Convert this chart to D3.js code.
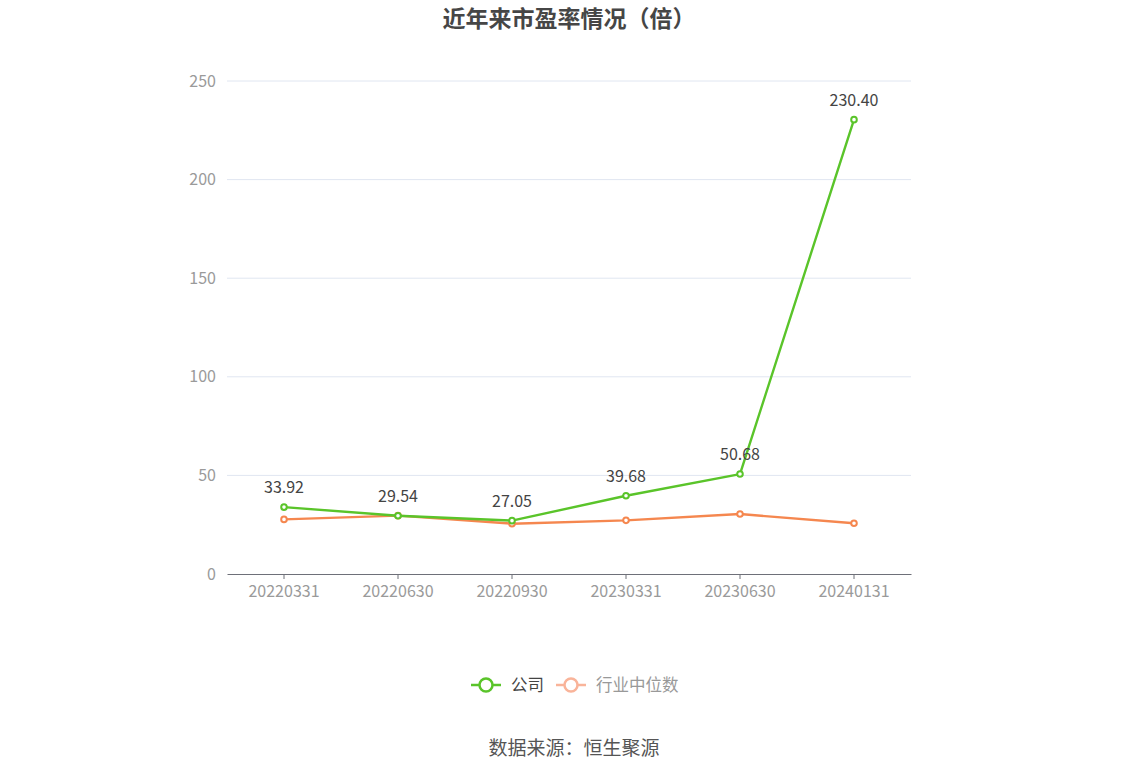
<!DOCTYPE html>
<html>
<head>
<meta charset="utf-8">
<script src="https://cdn.jsdelivr.net/npm/d3@7"></script>
<style>
  body { margin: 0; background: #fff; }
  text { font-family: "Noto Sans CJK SC", "Noto Sans", sans-serif; }
</style>
</head>
<body>
<svg width="1148" height="776"></svg>
<script>
const dates = ["20220331", "20220630", "20220930", "20230331", "20230630", "20240131"];
const companyPE = [33.92, 29.54, 27.05, 39.68, 50.68, 230.40];
const industryPE = [27.7, 29.6, 25.5, 27.2, 30.4, 25.7];
const yTicks = [0, 50, 100, 150, 200, 250];

const svg = d3.select("svg"),
  width = +svg.attr("width"),
  height = +svg.attr("height");

const margin = { left: 227, right: 237, top: 81, bottom: 202 };

const x = d3.scaleBand()
  .domain(dates)
  .range([margin.left, width - margin.right]);

const y = d3.scaleLinear()
  .domain([0, 250])
  .range([height - margin.bottom, margin.top]);

// title
svg.append("text")
  .attr("x", width / 2 - 5)
  .attr("y", 27)
  .attr("text-anchor", "middle")
  .attr("font-size", 23)
  .attr("font-weight", "bold")
  .attr("fill", "#464646")
  .text("近年来市盈率情况（倍）");

// grid lines
svg.append("g")
  .selectAll("line")
  .data(yTicks.filter(d => d > 0))
  .enter().append("line")
  .attr("x1", margin.left)
  .attr("x2", width - margin.right)
  .attr("y1", d => y(d))
  .attr("y2", d => y(d))
  .attr("stroke", "#e0e6f1");

// y axis labels
const yAxis = svg.append("g")
  .attr("transform", `translate(${margin.left},0)`)
  .call(d3.axisLeft(y).tickValues(yTicks).tickSize(0).tickPadding(11));
yAxis.select(".domain").remove();
yAxis.selectAll("text")
  .attr("font-size", 16)
  .attr("fill", "#9a9a9a")
  .attr("font-family", "'Noto Sans', sans-serif");

// x axis
const xAxis = svg.append("g")
  .attr("transform", `translate(0,${y(0)})`)
  .call(d3.axisBottom(x).tickSizeInner(5).tickSizeOuter(0).tickPadding(7));
xAxis.select(".domain").attr("stroke", "#6e7079");
xAxis.selectAll("line").attr("stroke", "#6e7079");
xAxis.selectAll("text")
  .attr("font-size", 16)
  .attr("fill", "#9a9a9a")
  .attr("font-family", "'Noto Sans', sans-serif");

const cx = d => x(d) + x.bandwidth() / 2;

function drawSeries(values, color) {
  const line = d3.line()
    .x((d, i) => cx(dates[i]))
    .y(d => y(d));
  const g = svg.append("g");
  g.append("path")
    .datum(values)
    .attr("d", line)
    .attr("fill", "none")
    .attr("stroke", color)
    .attr("stroke-width", 2.4)
    .attr("stroke-linejoin", "round");
  g.selectAll("circle")
    .data(values)
    .enter().append("circle")
    .attr("cx", (d, i) => cx(dates[i]))
    .attr("cy", d => y(d))
    .attr("r", 2.8)
    .attr("fill", "#fff")
    .attr("stroke", color)
    .attr("stroke-width", 2);
  return g;
}

drawSeries(industryPE, "#f5874f");
drawSeries(companyPE, "#5ac42a");

// value labels on company series
svg.append("g")
  .selectAll("text")
  .data(companyPE)
  .enter().append("text")
  .attr("x", (d, i) => cx(dates[i]))
  .attr("y", d => y(d) - 14)
  .attr("text-anchor", "middle")
  .attr("font-size", 16)
  .attr("fill", "#444")
  .attr("font-family", "'Noto Sans', sans-serif")
  .text(d => d.toFixed(2));

// legend
const legend = [
  { name: "公司", color: "#5ac42a", text: "#444", x: 471 },
  { name: "行业中位数", color: "#f9b49a", text: "#999", x: 556 }
];
const lg = svg.append("g").selectAll("g")
  .data(legend)
  .enter().append("g")
  .attr("transform", d => `translate(${d.x},685)`);
lg.append("line")
  .attr("x1", 0).attr("x2", 30)
  .attr("stroke", d => d.color)
  .attr("stroke-width", 2.5);
lg.append("circle")
  .attr("cx", 15)
  .attr("r", 6.5)
  .attr("fill", "#fff")
  .attr("stroke", d => d.color)
  .attr("stroke-width", 2.5);
lg.append("text")
  .attr("x", 40)
  .attr("y", 6)
  .attr("font-size", 16.5)
  .attr("fill", d => d.text)
  .text(d => d.name);

// source
svg.append("text")
  .attr("x", width / 2)
  .attr("y", 755)
  .attr("text-anchor", "middle")
  .attr("font-size", 19)
  .attr("fill", "#555")
  .text("数据来源：恒生聚源");
</script>
</body>
</html>
